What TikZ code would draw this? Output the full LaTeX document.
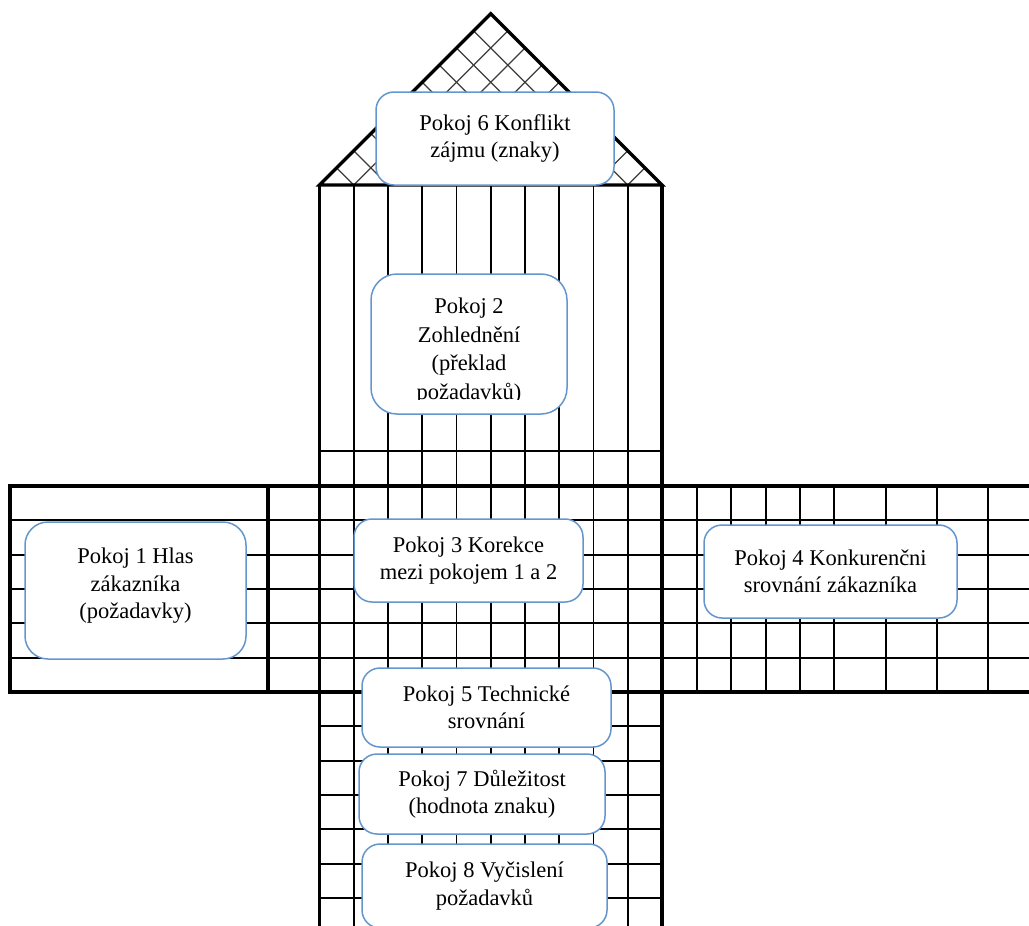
\documentclass[tikz,border=0pt]{standalone}
\usepackage{fontspec}
\setmainfont{Liberation Serif}
\newcommand\roomfont{\fontsize{22.5}{27.5}\selectfont}
\newcommand\roomfontwide{\fontsize{22.5}{28.5}\selectfont}
\definecolor{boxblue}{RGB}{100,150,205}
\definecolor{hatchgray}{RGB}{60,60,60}
\begin{document}
\begin{tikzpicture}[x=1pt,y=-1pt,
  thinline/.style={line width=1.9pt,black},
  thickline/.style={line width=3.2pt,black,line join=miter},
  hatch/.style={line width=1.3pt,hatchgray},
  room/.style={draw=boxblue,line width=1.5pt,fill=white,rounded corners=18pt,
    align=center,inner sep=0pt,font=\roomfont,text=black},
  roomtext/.style={align=center,inner sep=0pt,font=\roomfont,text=black}]
\useasboundingbox (0,0) rectangle (1029,926);
% roof hatching
\begin{scope}
  \clip (319.5,185) -- (490.75,13.75) -- (662,185) -- cycle;
  \foreach \k in {1,...,9} {
    \draw[hatch] ({319.5+34.25*\k},185) -- ++(200,-200);
    \draw[hatch] ({319.5+34.25*\k},185) -- ++(-200,-200);
  }
\end{scope}
% central column verticals
\foreach \k in {1,...,9}
  \draw[thinline] ({319.5+34.25*\k},185) -- ({319.5+34.25*\k},930);
% central column horizontals
\foreach \y in {451,726.4,760.7,795,829.4,863.8,898.1}
  \draw[thinline] (319.5,\y) -- (662,\y);
% full-width rows
\foreach \y in {520.3,554.7,589,623.4,657.7}
  \draw[thinline] (10,\y) -- (1035,\y);
% right wing verticals
\foreach \x in {697,731,766,800,834,886,937,988}
  \draw[thinline] (\x,486) -- (\x,692);
% thick outlines
\draw[thickline] (319.5,185) -- (490.75,13.75) -- (662,185) -- cycle;
\draw[thickline] (319.5,185) -- (319.5,930);
\draw[thickline] (662,185) -- (662,930);
\draw[thickline] (1035,486) -- (10,486) -- (10,692) -- (1035,692);
\draw[thickline] (268,486) -- (268,692);
% rooms
\node[room,minimum width=238pt,minimum height=93pt] (r6) at (495,138.5)
  {Pokoj 6 Konflikt\\zájmu (znaky)};
\node[room,rounded corners=26pt,minimum width=196pt,minimum height=140pt] (r2) at (469,344) {};
\begin{scope}
  \clip (371,270) rectangle (567,399);
  \node[roomtext,font=\roomfontwide] (r2t) at (469,351)
    {Pokoj 2\\Zohlednění\\(překlad\\požadavků)};
\end{scope}
\node[room,rounded corners=23pt,minimum width=221pt,minimum height=137pt] (r1) at (135.5,590.5) {};
\node[roomtext] (r1t) at (135.5,586)
  {Pokoj 1 Hlas\\zákazníka\\(požadavky)};
\node[room,minimum width=229pt,minimum height=83pt] (r3) at (468.5,560.5)
  {Pokoj 3 Korekce\\mezi pokojem 1 a 2};
\node[room,minimum width=253pt,minimum height=93pt] (r4) at (830.5,571.5)
  {Pokoj 4 Konkurenčni\\srovnání zákazníka};
\node[room,minimum width=249pt,minimum height=79pt] (r5) at (486.5,707.5)
  {Pokoj 5 Technické\\srovnání};
\node[room,minimum width=246pt,minimum height=80pt] (r7) at (482,794)
  {Pokoj 7 Důležitost\\(hodnota znaku)};
\node[room,minimum width=245pt,minimum height=84pt] (r8) at (484.5,886)
  {Pokoj 8 Vyčislení\\požadavků};
\end{tikzpicture}
\end{document}
